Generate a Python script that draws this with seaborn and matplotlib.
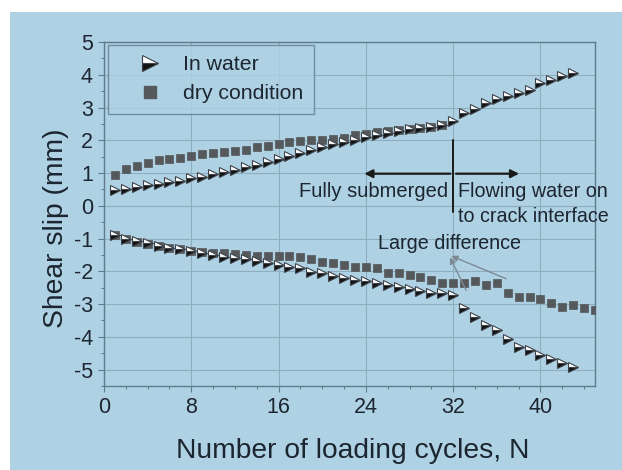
import numpy as np
import pandas as pd
import matplotlib
matplotlib.use("Agg")
import matplotlib.pyplot as plt
from matplotlib.patches import Rectangle
from matplotlib.lines import Line2D
import seaborn as sns

# ---------------- data ----------------
cycles_water = list(range(1, 44))
cycles_dry_upper = list(range(1, 32))
cycles_dry_lower = list(range(1, 46))

water_upper = [0.49, 0.52, 0.56, 0.62, 0.67, 0.73, 0.77, 0.84, 0.88, 0.97,
               1.03, 1.10, 1.17, 1.26, 1.34, 1.44, 1.52, 1.60, 1.70, 1.80,
               1.88, 1.95, 2.02, 2.10, 2.17, 2.22, 2.28, 2.33, 2.38, 2.42,
               2.47, 2.58, 2.83, 2.94, 3.14, 3.26, 3.36, 3.45, 3.55, 3.75,
               3.83, 3.95, 4.04]
dry_upper = [0.95, 1.13, 1.21, 1.31, 1.39, 1.43, 1.45, 1.51, 1.57, 1.61,
             1.64, 1.66, 1.69, 1.78, 1.82, 1.90, 1.95, 1.97, 2.00, 2.02,
             2.05, 2.08, 2.15, 2.20, 2.25, 2.28, 2.31, 2.33, 2.38, 2.42,
             2.48]
water_lower = [-0.90, -1.00, -1.07, -1.15, -1.22, -1.28, -1.33, -1.38, -1.43, -1.50,
               -1.55, -1.60, -1.63, -1.68, -1.75, -1.80, -1.86, -1.91, -2.01, -2.06,
               -2.14, -2.21, -2.26, -2.31, -2.36, -2.42, -2.47, -2.55, -2.59, -2.65,
               -2.67, -2.72, -3.13, -3.39, -3.64, -3.79, -4.08, -4.30, -4.40, -4.56,
               -4.69, -4.81, -4.93]
dry_lower = [-0.89, -1.02, -1.09, -1.16, -1.24, -1.29, -1.32, -1.37, -1.40, -1.43,
             -1.45, -1.48, -1.50, -1.52, -1.52, -1.53, -1.53, -1.55, -1.63, -1.72,
             -1.75, -1.80, -1.86, -1.88, -1.91, -2.04, -2.06, -2.11, -2.16, -2.26,
             -2.35, -2.36, -2.36, -2.31, -2.42, -2.36, -2.65, -2.77, -2.79, -2.85,
             -2.98, -3.08, -3.03, -3.13, -3.18]

series_labels = ["In water", "dry condition"]
x_ticks = [0, 8, 16, 24, 32, 40]
y_ticks = [-5, -4, -3, -2, -1, 0, 1, 2, 3, 4, 5]

# ---------------- style ----------------
BLUE = "#afd1e4"
TXT = "#1c2630"
SPINE = "#5d7d8f"
GRID = "#8eaec0"
SQ = "#55595c"

sns.set_style("ticks")
plt.rcParams["font.family"] = ["Liberation Sans", "DejaVu Sans"]

fig = plt.figure(figsize=(6.22, 4.70), dpi=100, facecolor="white")
fig.patches.append(Rectangle((10 / 622, 0), 1, 1 - 12 / 470, transform=fig.transFigure,
                             facecolor=BLUE, edgecolor="none", zorder=-10))
ax = fig.add_axes([104 / 622, 1 - 386 / 470, (595 - 104) / 622, (386 - 42) / 470])
ax.set_facecolor(BLUE)

df_wu = pd.DataFrame({"N": cycles_water, "slip": water_upper})
df_wl = pd.DataFrame({"N": cycles_water, "slip": water_lower})
df_du = pd.DataFrame({"N": cycles_dry_upper, "slip": dry_upper})
df_dl = pd.DataFrame({"N": cycles_dry_lower, "slip": dry_lower})

sq_kw = dict(marker="s", markersize=6.2, markerfacecolor=SQ, markeredgecolor=SQ,
             markeredgewidth=0.5, linestyle="", color=SQ, errorbar=None, zorder=3)
tri_kw = dict(marker=">", markersize=7.8, fillstyle="bottom", markerfacecolor="#111111",
              markerfacecoloralt="white", markeredgecolor="#3e444a", markeredgewidth=0.8,
              linestyle="", color="#111111", errorbar=None, zorder=4)

for d in (df_du, df_dl):
    sns.lineplot(data=d, x="N", y="slip", ax=ax, **sq_kw)
for d in (df_wu, df_wl):
    sns.lineplot(data=d, x="N", y="slip", ax=ax, **tri_kw)

ax.set_xlim(0, 45)
ax.set_ylim(-5.5, 5)
ax.set_xticks(x_ticks)
ax.set_yticks(y_ticks)
ax.set_xticks(np.arange(0, 46, 2), minor=True)
ax.set_yticks(np.arange(-5.5, 5.01, 0.5), minor=True)
ax.grid(True, which="major", color=GRID, linewidth=0.8)
ax.set_axisbelow(True)
for s in ax.spines.values():
    s.set_color(SPINE)
    s.set_linewidth(1.0)
ax.tick_params(which="major", length=4, width=0.8, color=SPINE, labelsize=15.5,
               labelcolor=TXT, pad=4)
ax.tick_params(which="minor", length=2.5, width=0.7, color=SPINE)
ax.set_yticklabels([str(v) for v in y_ticks])
ax.set_xticklabels([str(v) for v in x_ticks])

ax.set_xlabel("Number of loading cycles, N", fontsize=20.3, color=TXT, labelpad=14)
ax.set_ylabel("Shear slip (mm)", fontsize=20.3, color=TXT, labelpad=3)
ax.yaxis.label.set_y(0.46)
ax.xaxis.label.set_x(0.507)

# legend
h_tri = Line2D([], [], marker=">", markersize=11, fillstyle="bottom", markerfacecolor="#111111",
               markerfacecoloralt="white", markeredgecolor="#3e444a", markeredgewidth=0.8,
               linestyle="")
h_sq = Line2D([], [], marker="s", markersize=8, markerfacecolor=SQ, markeredgecolor=SQ,
              linestyle="")
leg = ax.legend([h_tri, h_sq], series_labels, loc="upper left",
                bbox_to_anchor=(0.008, 0.992), borderaxespad=0, fontsize=15.3,
                frameon=True, fancybox=False, facecolor=BLUE, edgecolor=SPINE,
                handletextpad=0.05, borderpad=0.5, labelspacing=0.45,
                handlelength=3.0)
leg.get_frame().set_linewidth(1.0)
for t in leg.get_texts():
    t.set_color(TXT)

# annotations
ax.plot([32, 32], [2.02, -0.18], color="#1a1a1a", linewidth=1.4, zorder=5)
ax.annotate("", xy=(23.6, 0.98), xytext=(32, 0.98),
            arrowprops=dict(arrowstyle="-|>", color="#1a1a1a", lw=1.6, mutation_scale=12))
ax.annotate("", xy=(38.3, 0.98), xytext=(32, 0.98),
            arrowprops=dict(arrowstyle="-|>", color="#1a1a1a", lw=1.6, mutation_scale=12))
ax.text(31.5, 0.44, "Fully submerged", ha="right", va="center", fontsize=14.5, color=TXT)
ax.text(32.4, 0.44, "Flowing water on", ha="left", va="center", fontsize=14.2, color=TXT)
ax.text(32.4, -0.33, "to crack interface", ha="left", va="center", fontsize=14.2, color=TXT)

ax.text(31.7, -1.14, "Large difference", ha="center", va="center", fontsize=14.2, color=TXT)
for tip_from in [(33.3, -2.65), (37.1, -2.26)]:
    ax.annotate("", xy=(31.6, -1.5), xytext=tip_from,
                arrowprops=dict(arrowstyle="-|>", color="#7d8a96", lw=1.0, mutation_scale=9))

fig.savefig("out.png", dpi=100, facecolor=fig.get_facecolor())
